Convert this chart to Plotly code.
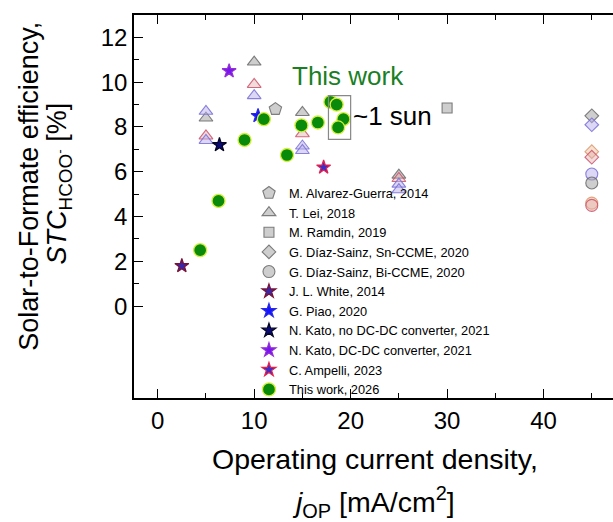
import plotly.graph_objects as go

# ---- data: operating current density [mA/cm2] vs solar-to-formate efficiency [%] ----
# Literature, grouped by colour variant
alvarez_x = [12.2]
alvarez_y = [8.8]

lei_gray_x = [5.0, 10.0, 15.0, 25.0]
lei_gray_y = [8.4, 10.9, 8.65, 5.85]
lei_red_x = [5.0, 10.0, 15.0, 25.0]
lei_red_y = [7.6, 9.9, 7.7, 5.7]
lei_blue_x = [5.0, 5.0, 10.0, 15.0, 15.0, 25.0, 25.0]
lei_blue_y = [8.7, 7.4, 9.4, 7.15, 6.95, 5.45, 5.2]

ramdin_x = [30.0]
ramdin_y = [8.85]

sn_x = [45.0, 45.0, 45.0, 45.0]
sn_y = [8.5, 8.1, 6.9, 6.65]
sn_variant = ["gray", "blue", "orange", "red"]

bi_x = [45.0, 45.0, 45.0, 45.0]
bi_y = [5.9, 5.5, 4.6, 4.5]
bi_variant = ["blue", "gray", "orange", "red"]

white_x, white_y = [2.5], [1.8]
piao_x, piao_y = [10.4], [8.5]
kato_nodc_x, kato_nodc_y = [6.4], [7.2]
kato_dc_x, kato_dc_y = [7.4], [10.5]
ampelli_x, ampelli_y = [17.2], [6.2]

this_work_x = [4.4, 6.3, 9.0, 11.0, 13.4, 14.9, 16.6, 17.9, 18.55, 19.25, 18.7]
this_work_y = [2.5, 4.7, 7.42, 8.35, 6.75, 8.07, 8.2, 9.12, 9.0, 8.35, 7.98]

# ~1 sun box limits
sun_box_x = [17.7, 20.0]
sun_box_y = [7.45, 9.4]

FONT = "Arial, Liberation Sans, sans-serif"

VARIANTS = {
    "gray":   ("rgba(165,165,165,0.55)", "rgba(105,105,105,0.85)"),
    "red":    ("rgba(225,175,175,0.45)", "rgba(205,80,105,0.85)"),
    "blue":   ("rgba(185,175,235,0.50)", "rgba(120,110,215,0.85)"),
    "orange": ("rgba(240,195,160,0.50)", "rgba(220,150,110,0.85)"),
}

fig = go.Figure()


def lit(x, y, name, symbol, variant, size, group, show):
    fill, line = VARIANTS[variant]
    fig.add_trace(go.Scatter(
        x=x, y=y, mode="markers", name=name, legendgroup=group, showlegend=show,
        marker=dict(symbol=symbol, size=size, color=fill, line=dict(color=line, width=1.1)),
    ))


lit(alvarez_x, alvarez_y, "M. Alvarez-Guerra, 2014", "pentagon", "gray", 13, "alv", True)
lit(lei_gray_x, lei_gray_y, "T. Lei, 2018", "triangle-up", "gray", 12, "lei", True)
lit(lei_red_x, lei_red_y, "T. Lei, 2018", "triangle-up", "red", 12, "lei", False)
lit(lei_blue_x, lei_blue_y, "T. Lei, 2018", "triangle-up", "blue", 12, "lei", False)
lit(ramdin_x, ramdin_y, "M. Ramdin, 2019", "square", "gray", 10, "ram", True)

for i, v in enumerate(sn_variant):
    lit([sn_x[i]], [sn_y[i]], "G. Díaz-Sainz, Sn-CCME, 2020", "diamond", v, 10.5, "sn", i == 0)
for i, v in enumerate(bi_variant):
    lit([bi_x[i]], [bi_y[i]], "G. Díaz-Sainz, Bi-CCME, 2020", "circle", v, 12, "bi", i == 1)


def star(x, y, name, fill, line):
    fig.add_trace(go.Scatter(
        x=x, y=y, mode="markers", name=name,
        marker=dict(symbol="star", size=10.5, color=fill, line=dict(color=line, width=1.2)),
    ))


star(white_x, white_y, "J. L. White, 2014", "#3a26a8", "#7a1232")
star(piao_x, piao_y, "G. Piao, 2020", "#1414ff", "#2a2ae6")
star(kato_nodc_x, kato_nodc_y, "N. Kato, no DC-DC converter, 2021", "#0a0a78", "#050520")
star(kato_dc_x, kato_dc_y, "N. Kato, DC-DC converter, 2021", "#7a14ee", "#9430d8")
star(ampelli_x, ampelli_y, "C. Ampelli, 2023", "#3a30c8", "#e8204c")

fig.add_trace(go.Scatter(
    x=this_work_x, y=this_work_y, mode="markers", name="This work, 2026",
    marker=dict(symbol="circle", size=13, color="#0a8a0a", line=dict(color="#d4f03a", width=1.3)),
))

# box around the ~1 sun points
fig.add_shape(type="rect", xref="x", yref="y",
              x0=sun_box_x[0], x1=sun_box_x[1], y0=sun_box_y[0], y1=sun_box_y[1],
              line=dict(color="#888888", width=1.2), fillcolor="rgba(0,0,0,0)")

annotations = [
    dict(x=19.7, y=10.27, xref="x", yref="y", text="This work", showarrow=False,
         font=dict(size=26, color="#1a7f24", family=FONT)),
    dict(x=24.3, y=8.48, xref="x", yref="y", text="~1 sun", showarrow=False,
         font=dict(size=26, color="black", family=FONT)),
    # x-axis title (two lines)
    dict(x=0.503, y=-0.158, xref="paper", yref="paper", text="Operating current density,",
         xanchor="center", yanchor="middle",
         showarrow=False, font=dict(size=28.5, color="black", family=FONT)),
    dict(x=0.499, y=-0.271, xref="paper", yref="paper", text="<i>j</i><sub>OP</sub> [mA/cm<sup>2</sup>]",
         xanchor="center", yanchor="middle",
         showarrow=False, font=dict(size=28.5, color="black", family=FONT)),
    # y-axis title (two lines)
    dict(x=-0.218, y=0.553, xref="paper", yref="paper", text="Solar-to-Formate efficiency,",
         xanchor="center", yanchor="middle",
         textangle=-90, showarrow=False, font=dict(size=27, color="black", family=FONT)),
    dict(x=-0.156, y=0.561, xref="paper", yref="paper",
         text="<i>STC</i><sub>HCOO<sup>-</sup></sub> [%]",
         xanchor="center", yanchor="middle",
         textangle=-90, showarrow=False, font=dict(size=27, color="black", family=FONT)),
]

y_ticks = [0, 2, 4, 6, 8, 10, 12]
y_minor = [1, 3, 5, 7, 9, 11]

fig.update_layout(
    width=613, height=522,
    margin=dict(l=134, r=0, t=15, b=124),
    paper_bgcolor="white", plot_bgcolor="white",
    font=dict(family=FONT, color="black"),
    showlegend=True,
    legend=dict(x=0.24, y=0.574, xanchor="left", yanchor="top",
                bgcolor="rgba(0,0,0,0)", font=dict(size=12.8, family=FONT),
                tracegroupgap=0, itemwidth=30, itemsizing="trace"),
    annotations=annotations,
    xaxis=dict(range=[-2.46, 47.2], showgrid=False, zeroline=False,
               showline=True, linecolor="black", linewidth=1.6, mirror="ticks",
               ticks="inside", ticklen=9, tickwidth=1.4, tickcolor="black",
               tickmode="linear", tick0=0, dtick=10,
               tickfont=dict(size=24, family=FONT),
               minor=dict(ticks="inside", ticklen=5, tickwidth=1.4, tickcolor="black",
                          tickmode="linear", tick0=0, dtick=5)),
    yaxis=dict(range=[-4.1, 13.0], showgrid=False, zeroline=False,
               showline=True, linecolor="black", linewidth=1.6,
               ticks="inside", ticklen=9, tickwidth=1.4, tickcolor="black",
               tickmode="array", tickvals=y_ticks, ticktext=[str(v) for v in y_ticks],
               tickfont=dict(size=24, family=FONT),
               minor=dict(ticks="inside", ticklen=5, tickwidth=1.4, tickcolor="black",
                          tickmode="array", tickvals=y_minor)),
    yaxis2=dict(range=[-4.1, 13.0], overlaying="y", side="right", anchor="x",
                showgrid=False, zeroline=False, showline=False, showticklabels=False,
                ticks="inside", ticklen=9, tickwidth=1.4, tickcolor="black",
                tickmode="array", tickvals=y_ticks,
                minor=dict(ticks="inside", ticklen=5, tickwidth=1.4, tickcolor="black",
                           tickmode="array", tickvals=y_minor)),
)

fig.write_html("out.html")
